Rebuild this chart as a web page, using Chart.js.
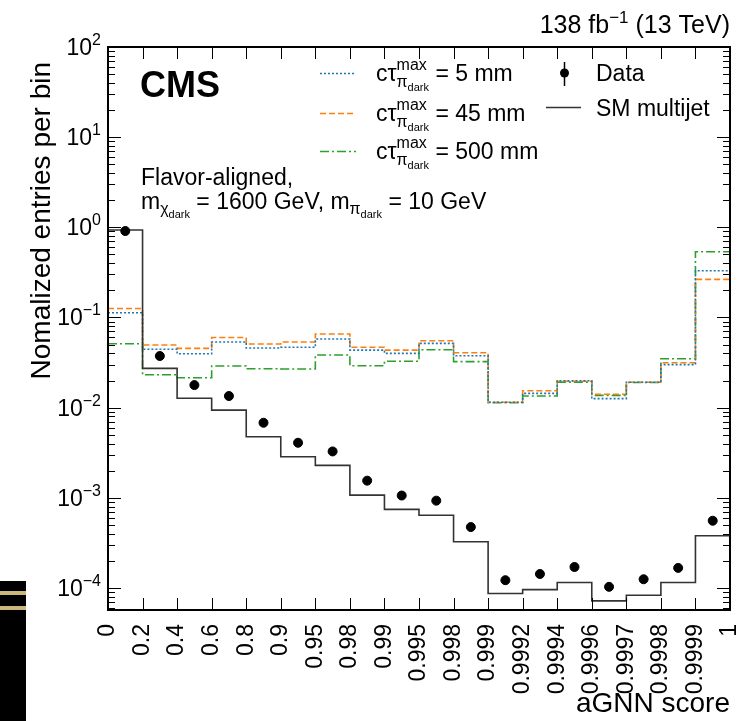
<!DOCTYPE html>
<html>
<head>
<meta charset="utf-8">
<script src="https://cdn.jsdelivr.net/npm/chart.js@4.4.1/dist/chart.umd.min.js"></script>
<style>
  body { margin: 0; background: #fff; }
  #wrap { position: relative; width: 738px; height: 721px; }
  #strip { position: absolute; left: 0; top: 581px; width: 26px; height: 140px; background: #000; }
  #strip .s1, #strip .s2 { position: absolute; left: 0; width: 26px; height: 4px; background: #cbb67c; }
  #strip .s1 { top: 10px; }
  #strip .s2 { top: 25px; }
</style>
</head>
<body>
<div id="wrap">
  <canvas id="c" width="738" height="721"></canvas>
  <div id="strip"><div class="s1"></div><div class="s2"></div></div>
</div>
<script>
// bin edges of the aGNN score (tick labels)
const edges = ['0', '0.2', '0.4', '0.6', '0.8', '0.9', '0.95', '0.98', '0.99', '0.995', '0.998', '0.999',
               '0.9992', '0.9994', '0.9996', '0.9997', '0.9998', '0.9999', '1'];

// normalized entries per bin
const ctau5   = [0.113, 0.0444, 0.0396, 0.0535, 0.0459, 0.0467, 0.0577, 0.0435, 0.040, 0.0517, 0.0377,
                 0.0115, 0.0144, 0.0199, 0.0126, 0.0191, 0.030, 0.330];
const ctau45  = [0.126, 0.0495, 0.0455, 0.060, 0.0508, 0.0535, 0.0656, 0.0467, 0.0435, 0.0553, 0.0407,
                 0.0115, 0.0154, 0.0196, 0.0141, 0.0191, 0.0315, 0.265];
const ctau500 = [0.0512, 0.0232, 0.0215, 0.029, 0.027, 0.0268, 0.0384, 0.0292, 0.0327, 0.0439, 0.0324,
                 0.01135, 0.01346, 0.0192, 0.0137, 0.019, 0.0349, 0.536];
const smMultijet = [0.933, 0.0273, 0.0127, 0.0094, 0.00476, 0.00286, 0.00229, 0.00107, 0.000745, 0.00064,
                    0.000326, 0.000087, 0.000096, 0.000115, 0.000072, 0.000083, 0.000115, 0.00038];
const dataVals = [0.91, 0.0374, 0.0178, 0.01346, 0.0068, 0.00408, 0.00327, 0.00155, 0.00106, 0.00093,
                  0.000474, 0.000122, 0.000143, 0.000171, 0.000103, 0.000125, 0.000167, 0.000557];

const ctauLabels = ['5 mm', '45 mm', '500 mm'];
const yTickExps = [2, 1, 0, -1, -2, -3, -4];
const yTitle = 'Nomalized entries per bin';

const FONT = '"Liberation Sans", Arial, Helvetica, sans-serif';

// histogram as step line: one point per left edge + closing point at last edge
function stepPoints(vals) {
    const pts = vals.map((v, i) => ({ x: i, y: v }));
    pts.push({ x: vals.length, y: vals[vals.length - 1] });
    return pts;
}

// --- rich text with sub/superscripts ---
function setFont(ctx, q) {
    ctx.font = (q.b ? 'bold ' : '') + q.s + 'px ' + FONT;
}
function textW(ctx, q) {
    setFont(ctx, q);
    return ctx.measureText(q.t).width;
}
function partW(ctx, p) {
    if (p.stack) return Math.max(...p.stack.map(row => row.reduce((w, q) => w + textW(ctx, q), 0)));
    return textW(ctx, p);
}
function richW(ctx, parts) {
    return parts.reduce((w, p) => w + partW(ctx, p), 0);
}
function drawRich(ctx, x, y, parts) {
    ctx.textAlign = 'left';
    ctx.textBaseline = 'alphabetic';
    parts.forEach(p => {
        if (p.stack) {
            p.stack.forEach(row => {
                let xx = x;
                row.forEach(q => {
                    setFont(ctx, q);
                    ctx.fillText(q.t, xx, y + (q.dy || 0));
                    xx += ctx.measureText(q.t).width;
                });
            });
        } else {
            setFont(ctx, p);
            ctx.fillText(p.t, x, y + (p.dy || 0));
        }
        x += partW(ctx, p);
    });
    return x;
}

function ctauParts(val) {
    return [
        { t: 'cτ', s: 23 },
        { stack: [[{ t: 'max', s: 16, dy: -11 }], [{ t: 'π', s: 16, dy: 6 }, { t: 'dark', s: 11, dy: 10 }]] },
        { t: ' = ' + val, s: 23 }
    ];
}

const decor = {
    id: 'cmsDecor',
    afterDraw(chart) {
        const ctx = chart.ctx;
        const { left, right, top, bottom } = chart.chartArea;
        const xs = chart.scales.x, ys = chart.scales.y;
        ctx.save();
        ctx.fillStyle = '#000';
        ctx.strokeStyle = '#000';

        // inward ticks, all four sides
        ctx.lineWidth = 1;
        ctx.beginPath();
        for (let i = 0; i < edges.length; i++) {
            const px = Math.round(xs.getPixelForValue(i)) + 0.5;
            ctx.moveTo(px, bottom); ctx.lineTo(px, bottom - 12);
            ctx.moveTo(px, top); ctx.lineTo(px, top + 12);
        }
        for (let e = -5; e <= 2; e++) {
            for (let m = 1; m <= 9; m++) {
                const v = m * Math.pow(10, e);
                if (v < ys.min || v > ys.max) continue;
                const py = Math.round(ys.getPixelForValue(v)) + 0.5;
                const len = m === 1 ? 13 : 7;
                ctx.moveTo(left, py); ctx.lineTo(left + len, py);
                ctx.moveTo(right, py); ctx.lineTo(right - len, py);
            }
        }
        ctx.stroke();

        // frame
        ctx.lineWidth = 2;
        ctx.strokeRect(left, top, right - left, bottom - top);

        // y tick labels 10^n
        yTickExps.forEach(e => {
            const py = ys.getPixelForValue(Math.pow(10, e));
            const exp = e < 0 ? '\u2212' + (-e) : String(e);
            const parts = [{ t: '10', s: 23 }, { t: exp, s: 16, dy: -10 }];
            drawRich(ctx, left - 7 - richW(ctx, parts), py + 8, parts);
        });

        // y axis title, top-aligned
        ctx.save();
        ctx.translate(50, 62);
        ctx.rotate(-Math.PI / 2);
        ctx.font = '28px ' + FONT;
        ctx.textAlign = 'right';
        ctx.textBaseline = 'alphabetic';
        ctx.fillText(yTitle, 0, 0);
        ctx.restore();

        // luminosity label
        const lumi = [{ t: '138 fb', s: 25 }, { t: '\u22121', s: 17, dy: -10 }, { t: ' (13 TeV)', s: 25 }];
        drawRich(ctx, right - richW(ctx, lumi), 33, lumi);

        // CMS + annotation
        drawRich(ctx, 140, 97, [{ t: 'CMS', s: 36, b: true }]);
        drawRich(ctx, 141, 185, [{ t: 'Flavor-aligned,', s: 23 }]);
        drawRich(ctx, 141, 209, [
            { t: 'm', s: 23 }, { t: 'χ', s: 16, dy: 5 }, { t: 'dark', s: 11, dy: 9 },
            { t: ' = 1600 GeV, m', s: 23 }, { t: 'π', s: 16, dy: 5 }, { t: 'dark', s: 11, dy: 9 },
            { t: ' = 10 GeV', s: 23 }
        ]);

        // legend: signal samples
        const ds = chart.data.datasets;
        const rows = [73, 113, 151];
        [2, 3, 4].forEach((di, k) => {
            const d = ds[di];
            ctx.strokeStyle = d.borderColor;
            ctx.lineWidth = d.borderWidth;
            ctx.setLineDash(d.borderDash || []);
            ctx.beginPath();
            ctx.moveTo(320, rows[k] + 0.5); ctx.lineTo(356, rows[k] + 0.5);
            ctx.stroke();
            ctx.setLineDash([]);
            ctx.fillStyle = '#000';
            drawRich(ctx, 376, rows[k] + 8, ctauParts(ctauLabels[k]));
        });

        // legend: data and SM multijet
        ctx.strokeStyle = '#000';
        ctx.lineWidth = 1.5;
        ctx.beginPath();
        ctx.moveTo(564.5, 62); ctx.lineTo(564.5, 86);
        ctx.stroke();
        ctx.beginPath();
        ctx.arc(564.5, 73, 4.5, 0, Math.PI * 2);
        ctx.fill();
        drawRich(ctx, 596, 81, [{ t: ds[0].label, s: 23 }]);
        ctx.strokeStyle = ds[1].borderColor;
        ctx.beginPath();
        ctx.moveTo(546, 107.5); ctx.lineTo(581, 107.5);
        ctx.stroke();
        drawRich(ctx, 596, 116, [{ t: ds[1].label, s: 23 }]);

        ctx.restore();
    }
};

new Chart(document.getElementById('c'), {
    type: 'line',
    data: {
        datasets: [
            {
                type: 'scatter', label: 'Data',
                data: dataVals.map((v, i) => ({ x: i + 0.5, y: v })),
                pointRadius: 4.5, pointBackgroundColor: '#000', pointBorderColor: '#000', showLine: false
            },
            {
                label: 'SM multijet', data: stepPoints(smMultijet), stepped: true,
                borderColor: '#333', borderWidth: 1.6, pointRadius: 0, fill: false
            },
            {
                label: 'ctau 5 mm', data: stepPoints(ctau5), stepped: true,
                borderColor: '#1f77b4', borderWidth: 1.6, borderDash: [2, 2], pointRadius: 0, fill: false
            },
            {
                label: 'ctau 45 mm', data: stepPoints(ctau45), stepped: true,
                borderColor: '#ff7f0e', borderWidth: 1.6, borderDash: [6, 3], pointRadius: 0, fill: false
            },
            {
                label: 'ctau 500 mm', data: stepPoints(ctau500), stepped: true,
                borderColor: '#2ca02c', borderWidth: 1.6, borderDash: [9, 3, 2, 3], pointRadius: 0, fill: false
            }
        ]
    },
    options: {
        responsive: false,
        animation: false,
        devicePixelRatio: 1,
        layout: { padding: { top: 47, right: 8, left: 0, bottom: 0 } },
        plugins: { legend: { display: false }, tooltip: { enabled: false } },
        scales: {
            x: {
                type: 'linear', min: 0, max: edges.length - 1,
                grid: { display: false }, border: { display: false },
                ticks: {
                    stepSize: 1, autoSkip: false, maxRotation: 90, minRotation: 90,
                    padding: 6, color: '#000', font: { family: FONT, size: 23 },
                    callback: v => edges[v]
                },
                title: {
                    display: true, text: 'aGNN score', align: 'end', color: '#000',
                    font: { family: FONT, size: 28 }, padding: 0
                },
                afterFit: s => { s.height = 111; s.paddingLeft = 0; s.paddingRight = 0; }
            },
            y: {
                type: 'logarithmic', min: 5.7e-5, max: 100,
                grid: { display: false }, border: { display: false },
                ticks: { display: false },
                afterFit: s => { s.width = 108; s.paddingTop = 0; s.paddingBottom = 0; }
            }
        }
    },
    plugins: [decor]
});
</script>
</body>
</html>
